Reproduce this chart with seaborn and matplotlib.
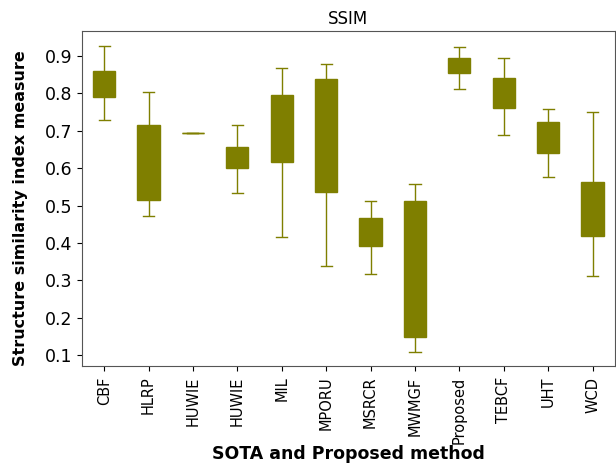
import numpy as np
import pandas as pd
import matplotlib
matplotlib.use("Agg")
import matplotlib.pyplot as plt
import seaborn as sns

# Methods in plotting order (HUWIE appears twice)
methods = ["CBF", "HLRP", "HUWIE", "HUWIE", "MIL", "MPORU", "MSRCR",
           "MWMGF", "Proposed", "TEBCF", "UHT", "WCD"]

# Five-number summaries of SSIM per method
ssim_min = [0.729, 0.472, 0.695, 0.533, 0.416, 0.339, 0.316, 0.110, 0.811, 0.688, 0.576, 0.313]
ssim_q1  = [0.790, 0.514, 0.695, 0.601, 0.617, 0.537, 0.393, 0.148, 0.854, 0.760, 0.641, 0.419]
ssim_med = [0.825, 0.615, 0.695, 0.628, 0.706, 0.688, 0.430, 0.330, 0.875, 0.800, 0.683, 0.490]
ssim_q3  = [0.861, 0.715, 0.695, 0.656, 0.795, 0.838, 0.466, 0.513, 0.895, 0.841, 0.725, 0.562]
ssim_max = [0.928, 0.805, 0.695, 0.715, 0.868, 0.878, 0.512, 0.559, 0.924, 0.894, 0.758, 0.751]

rows = []
for i in range(len(methods)):
    for v in (ssim_min[i], ssim_q1[i], ssim_med[i], ssim_q3[i], ssim_max[i]):
        rows.append({"idx": i, "ssim": v})
df = pd.DataFrame(rows)

plt.rcParams["font.family"] = ["DejaVu Sans"]
fig = plt.figure(figsize=(6.16, 4.70), dpi=100)
ax = fig.add_axes([0.133, 0.221, 0.865, 0.713])

color = "#7f7f00"
sns.boxplot(data=df, x="idx", y="ssim", ax=ax, color=color, saturation=1,
            width=0.5, whis=np.inf, linecolor=color, linewidth=1.0)

ax.set_xticks(range(len(methods)))
ax.set_xticklabels(methods, rotation=90, fontsize=10.5)
ax.set_xlim(-0.5, len(methods) - 0.5)
ax.set_ylim(0.071, 0.967)
ax.set_yticks([0.1, 0.2, 0.3, 0.4, 0.5, 0.6, 0.7, 0.8, 0.9])
ax.tick_params(axis="y", labelsize=12.5)
ax.tick_params(axis="x", pad=4)
ax.set_title("SSIM", fontsize=12, pad=5)
ax.set_xlabel("SOTA and Proposed method", fontsize=12.5, fontweight="bold", labelpad=1)
ax.set_ylabel("Structure similarity index measure", fontsize=11.5, fontweight="bold")
ax.yaxis.set_label_coords(-0.101, 0.472)
for s in ax.spines.values():
    s.set_color("#555555")

fig.savefig("out.png", dpi=100)
